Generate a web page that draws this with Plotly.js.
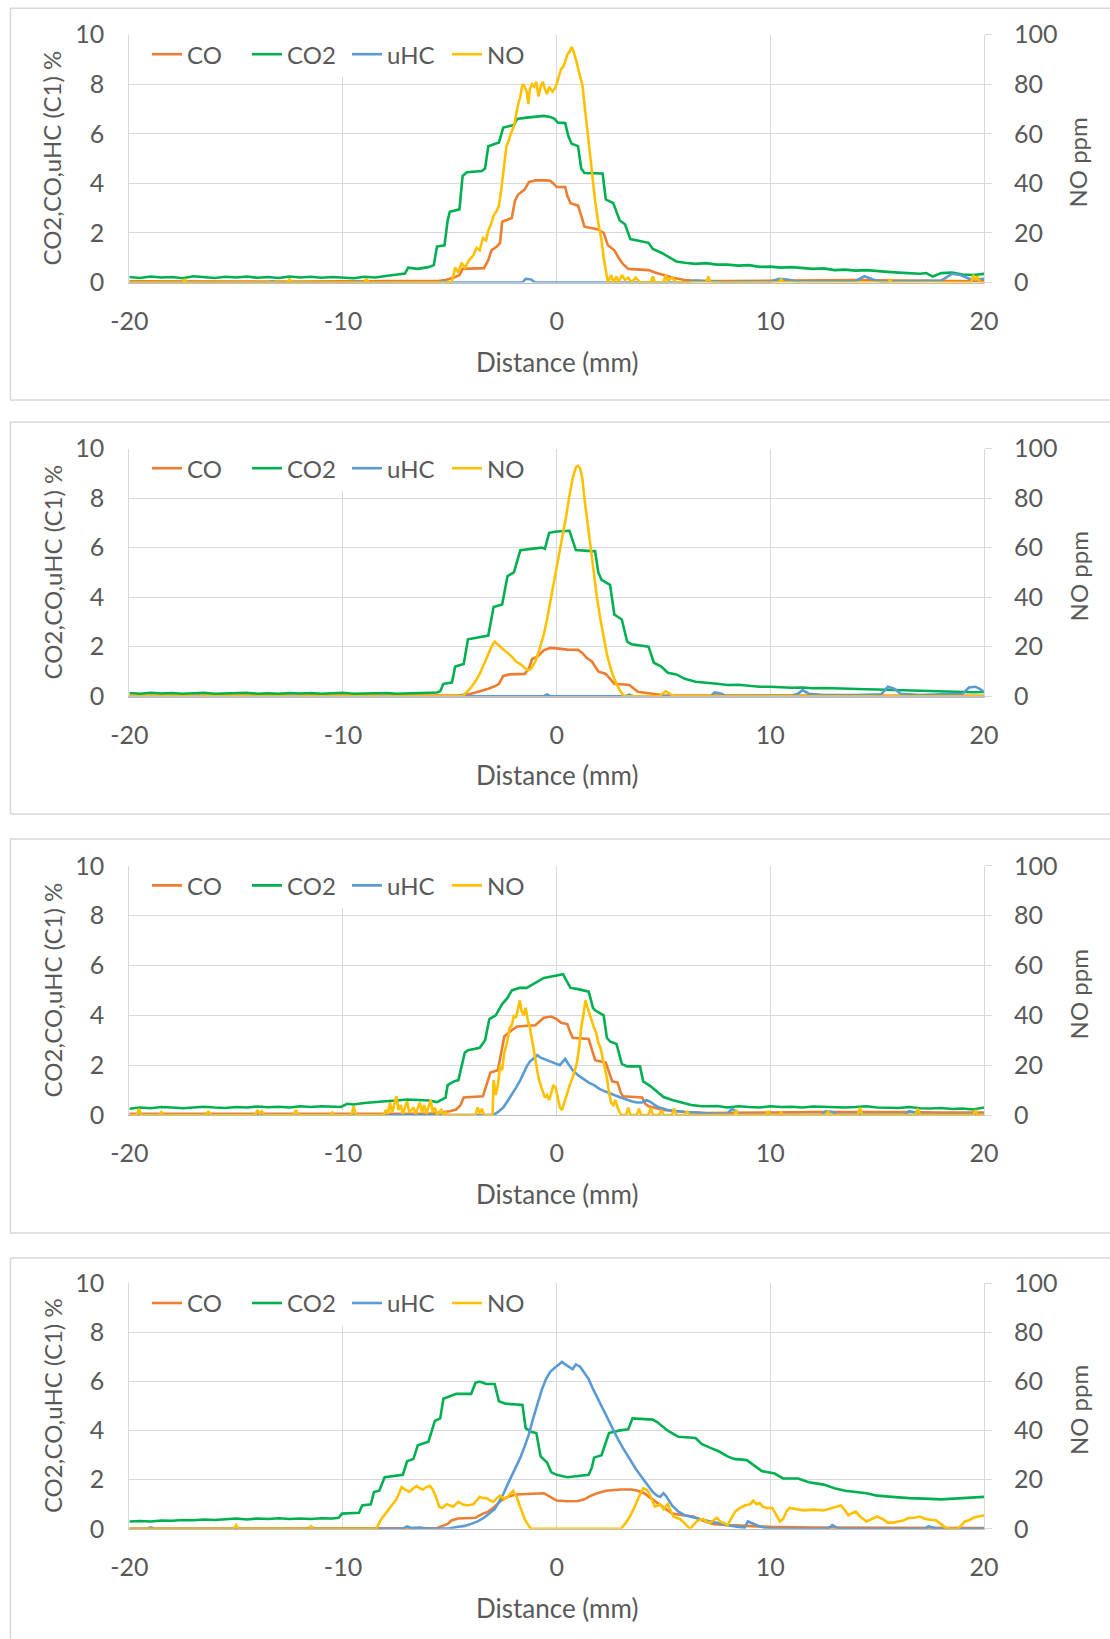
<!DOCTYPE html>
<html>
<head>
<meta charset="utf-8">
<script src="https://cdn.plot.ly/plotly-3.0.1.min.js"></script>
<style>
  html, body { margin: 0; padding: 0; background: #ffffff; }
  #chart { width: 1110px; height: 1639px; }
</style>
</head>
<body>
<div id="chart"></div>
<script>
// ---------------- DATA ----------------
// Each series: [distance mm, value]. CO, CO2, uHC in % (left axis); NO in ppm (right axis).
const SERIES_NAMES = ["CO", "CO2", "uHC", "NO"];
const X_TICKS = [-20, -10, 0, 10, 20];
const Y_LEFT_TICKS = [0, 2, 4, 6, 8, 10];
const Y_RIGHT_TICKS = [0, 20, 40, 60, 80, 100];

// ---- Panel 1 ----
const P1_CO = [[-20,0.05],[-18,0.04],[-16,0.06],[-14,0.05],[-12,0.04],[-10,0.05],[-8,0.05],[-6,0.06],[-5.5,0.07],[-5.2,0.1],[-4.8,0.2],[-4.55,0.3],[-4.4,0.55],[-3.4,0.58],[-3.2,0.9],[-3.05,1.3],[-2.8,1.45],[-2.65,1.6],[-2.55,2.45],[-2.1,2.6],[-1.95,3.3],[-1.8,3.55],[-1.5,3.75],[-1.3,4.05],[-1.0,4.12],[-0.5,4.12],[-0.3,4.1],[-0.1,3.95],[0.0,3.85],[0.4,3.85],[0.5,3.5],[0.65,3.2],[1.0,3.1],[1.15,2.7],[1.3,2.25],[1.9,2.15],[2.2,2.0],[2.4,1.5],[2.7,1.3],[2.9,1.0],[3.1,0.75],[3.35,0.55],[4.3,0.5],[4.6,0.4],[5.0,0.3],[5.5,0.18],[6.0,0.1],[6.5,0.07],[8,0.06],[10,0.08],[12,0.1],[14,0.1],[16,0.08],[18,0.06],[20,0.05]];
const P1_CO2 = [[-20,0.22],[-19.5,0.18],[-19,0.24],[-18.5,0.2],[-18,0.22],[-17.5,0.17],[-17,0.25],[-16.5,0.2],[-16,0.18],[-15.5,0.23],[-15,0.2],[-14.5,0.24],[-14,0.19],[-13.5,0.22],[-13,0.18],[-12.5,0.24],[-12,0.2],[-11.5,0.23],[-11,0.19],[-10.5,0.22],[-10,0.2],[-9.5,0.17],[-9,0.23],[-8.5,0.2],[-8,0.26],[-7.5,0.3],[-7.1,0.36],[-6.95,0.6],[-6.5,0.55],[-6,0.62],[-5.75,0.7],[-5.6,1.45],[-5.25,1.5],[-5.1,2.5],[-5.0,2.85],[-4.55,2.95],[-4.4,4.3],[-4.2,4.45],[-3.5,4.5],[-3.35,4.6],[-3.2,5.5],[-2.7,5.65],[-2.5,6.25],[-2.0,6.35],[-1.85,6.6],[-1.4,6.65],[-1.0,6.7],[-0.6,6.72],[-0.3,6.68],[-0.1,6.6],[0.05,6.45],[0.4,6.43],[0.55,5.9],[0.7,5.6],[1.0,5.5],[1.15,4.6],[1.3,4.42],[2.15,4.4],[2.3,3.35],[2.65,3.2],[2.95,2.5],[3.2,2.35],[3.45,1.75],[4.3,1.6],[4.5,1.35],[4.9,1.2],[5.3,1.0],[5.6,0.85],[6.0,0.8],[6.5,0.75],[7.0,0.78],[7.5,0.72],[8.0,0.72],[8.5,0.68],[9.0,0.7],[9.5,0.63],[10.0,0.64],[10.5,0.6],[11,0.62],[11.5,0.57],[12,0.55],[12.5,0.57],[13,0.5],[13.5,0.52],[14,0.48],[14.5,0.5],[15,0.45],[15.5,0.43],[16,0.4],[16.5,0.38],[17,0.35],[17.3,0.38],[17.6,0.24],[18,0.38],[18.5,0.4],[19,0.32],[19.5,0.3],[20,0.35]];
const P1_UHC = [[-20,0],[-17.6,0],[-17.4,0.06],[-17.2,0],[-13.5,0],[-13.3,0.05],[-13.1,0],[-9.5,0],[-9.3,0.05],[-9.1,0],[-5.5,0],[-5.3,0.06],[-5.1,0],[-1.6,0],[-1.45,0.15],[-1.2,0.12],[-1.0,0],[6.0,0],[6.5,0.08],[7,0.05],[8,0.02],[9,0.04],[10,0.03],[10.4,0.15],[10.8,0.12],[11.2,0.05],[12,0.05],[13,0.03],[14,0.06],[14.4,0.25],[14.8,0.12],[15.2,0.04],[16,0.05],[17,0.04],[18,0.08],[18.5,0.35],[18.9,0.3],[19.3,0.15],[19.7,0.12],[20,0.15]];
const P1_NO = [[-20,0],[-17.5,0],[-17.4,1.5],[-17.3,0],[-12.6,0],[-12.5,1.5],[-12.4,0],[-9.0,0],[-8.9,1.5],[-8.8,0],[-4.9,0],[-4.75,6],[-4.6,4],[-4.45,8],[-4.3,6],[-4.1,9],[-3.9,11],[-3.75,14],[-3.6,13],[-3.45,18],[-3.3,17],[-3.2,21],[-3.05,24],[-2.95,27],[-2.8,29],[-2.7,31],[-2.6,37],[-2.45,48],[-2.35,55],[-2.25,57],[-2.15,60],[-2.0,63],[-1.9,68],[-1.8,72],[-1.7,75],[-1.6,80],[-1.5,79],[-1.4,77],[-1.33,72],[-1.25,78],[-1.15,80],[-1.05,79],[-0.95,81],[-0.85,75],[-0.75,79],[-0.65,81],[-0.55,78],[-0.45,76],[-0.35,79],[-0.2,77],[-0.1,78],[0.0,80],[0.1,83],[0.2,86],[0.3,87],[0.4,89],[0.5,92],[0.6,93],[0.7,95],[0.8,93],[0.9,90],[1.0,86],[1.1,83],[1.2,80],[1.35,68],[1.5,56],[1.65,44],[1.8,33],[1.95,24],[2.1,17],[2.2,10],[2.3,5],[2.4,0],[2.55,3],[2.65,0],[2.8,2.5],[2.9,0],[3.05,3],[3.2,1],[3.35,2],[3.5,0],[3.7,2],[3.9,0],[4.4,0],[4.5,2.5],[4.6,0],[5.0,0],[5.1,3],[5.2,0.5],[5.4,2],[5.6,0],[7.0,0],[7.1,2.5],[7.2,0],[10.4,0],[10.5,1.5],[10.6,0],[15.5,0],[15.6,1],[15.7,0],[19.4,0],[19.5,3],[19.6,1],[19.7,2.5],[19.8,0],[20,0]];

// ---- Panel 2 ----
const P2_CO = [[-20,0.02],[-15,0.02],[-10,0.02],[-6,0.03],[-4.5,0.03],[-4.0,0.1],[-3.5,0.22],[-3.2,0.3],[-2.9,0.4],[-2.7,0.5],[-2.5,0.82],[-2.2,0.88],[-1.5,0.9],[-1.3,1.1],[-1.15,1.5],[-0.9,1.6],[-0.6,1.85],[-0.3,1.95],[0.0,1.93],[0.5,1.88],[1.0,1.87],[1.2,1.75],[1.4,1.55],[1.65,1.4],[1.8,1.2],[1.95,1.0],[2.3,0.9],[2.5,0.7],[2.7,0.5],[3.4,0.45],[3.6,0.3],[3.8,0.18],[4.3,0.12],[5.0,0.04],[6,0.03],[10,0.02],[15,0.03],[20,0.02]];
const P2_CO2 = [[-20,0.13],[-19.5,0.1],[-19,0.14],[-18.5,0.11],[-18,0.13],[-17.5,0.1],[-17,0.12],[-16.5,0.14],[-16,0.1],[-15.5,0.12],[-15,0.11],[-14.5,0.14],[-14,0.1],[-13.5,0.12],[-13,0.1],[-12.5,0.13],[-12,0.11],[-11.5,0.13],[-11,0.1],[-10.5,0.12],[-10,0.14],[-9.5,0.1],[-9,0.12],[-8.5,0.11],[-8,0.13],[-7.5,0.1],[-7,0.12],[-6.5,0.11],[-6,0.13],[-5.6,0.15],[-5.45,0.2],[-5.3,0.5],[-4.9,0.55],[-4.75,1.2],[-4.35,1.3],[-4.15,2.3],[-3.2,2.45],[-2.95,3.6],[-2.55,3.7],[-2.3,4.85],[-2.0,5.0],[-1.7,5.9],[-0.7,6.0],[-0.55,5.95],[-0.35,6.6],[0.0,6.65],[0.6,6.68],[0.75,6.3],[0.9,5.9],[1.8,5.85],[1.95,5.0],[2.1,4.7],[2.5,4.5],[2.7,3.3],[3.05,3.1],[3.3,2.2],[3.5,2.1],[4.3,2.0],[4.55,1.35],[4.9,1.2],[5.2,0.95],[5.6,0.88],[6.0,0.7],[6.5,0.58],[7.0,0.55],[7.5,0.5],[8,0.45],[8.5,0.46],[9,0.42],[9.5,0.38],[10,0.38],[10.5,0.36],[11,0.34],[11.5,0.35],[12,0.32],[12.5,0.33],[13,0.31],[13.5,0.3],[14,0.3],[14.5,0.28],[15,0.27],[15.5,0.26],[16,0.24],[16.5,0.23],[17,0.21],[17.5,0.19],[18,0.18],[18.5,0.17],[19,0.18],[19.5,0.16],[20,0.17]];
const P2_UHC = [[-20,0],[-17,0],[-16.9,0.05],[-16.7,0],[-12.5,0],[-12.3,0.05],[-12.1,0],[-8.3,0],[-8.1,0.05],[-7.9,0],[-4.6,0],[-4.4,0.05],[-4.2,0],[-0.6,0],[-0.45,0.07],[-0.3,0],[3.2,0],[3.4,0.06],[3.6,0],[7.2,0],[7.4,0.15],[7.7,0.1],[7.9,0.02],[9,0.03],[11,0.02],[11.3,0.1],[11.5,0.25],[11.8,0.1],[12.5,0.05],[14,0.05],[15.2,0.08],[15.5,0.38],[15.8,0.3],[16.1,0.1],[17,0.05],[18,0.08],[19,0.1],[19.3,0.35],[19.6,0.38],[19.8,0.3],[20,0.18]];
const P2_NO = [[-20,0],[-4.4,0],[-4.05,3],[-3.8,6],[-3.6,9],[-3.4,13],[-3.2,17],[-3.05,20],[-2.9,22],[-2.75,21],[-2.5,19],[-2.3,17.5],[-2.1,16],[-1.9,14],[-1.7,13],[-1.5,11.5],[-1.35,10.5],[-1.2,11],[-1.0,14],[-0.8,19],[-0.6,25],[-0.45,31],[-0.3,38],[-0.15,45],[0.0,51],[0.15,58],[0.3,65],[0.45,73],[0.6,81],[0.75,88],[0.9,92.5],[1.0,93],[1.1,92],[1.2,88],[1.3,80],[1.45,70],[1.6,60],[1.75,48],[1.9,39],[2.05,31],[2.2,24],[2.35,17],[2.5,12],[2.65,8],[2.8,5],[2.95,2.5],[3.15,0],[4.8,0],[5.1,2],[5.4,0.5],[5.6,0],[20,0]];

// ---- Panel 3 ----
const P3_CO = [[-20,0.05],[-16,0.05],[-12,0.06],[-8,0.05],[-6,0.05],[-5.5,0.1],[-5.0,0.15],[-4.7,0.22],[-4.5,0.4],[-4.35,0.7],[-3.45,0.75],[-3.25,1.3],[-3.1,1.7],[-2.75,1.8],[-2.6,2.5],[-2.45,3.15],[-2.1,3.4],[-1.85,3.55],[-1.0,3.6],[-0.75,3.8],[-0.6,3.9],[-0.25,3.95],[0.0,3.85],[0.2,3.7],[0.5,3.65],[0.6,3.4],[0.75,3.1],[1.5,3.05],[1.65,2.6],[1.8,2.2],[2.3,2.1],[2.45,1.7],[2.6,1.35],[2.85,1.3],[3.0,0.9],[3.1,0.75],[4.0,0.7],[4.15,0.45],[4.3,0.35],[5.0,0.2],[6.0,0.12],[7.0,0.08],[8,0.08],[10,0.1],[12,0.12],[14,0.13],[16,0.12],[18,0.1],[20,0.1]];
const P3_CO2 = [[-20,0.25],[-19.5,0.3],[-19,0.27],[-18.5,0.32],[-18,0.3],[-17.5,0.27],[-17,0.3],[-16.5,0.33],[-16,0.3],[-15.5,0.28],[-15,0.32],[-14.5,0.3],[-14,0.34],[-13.5,0.31],[-13,0.33],[-12.5,0.3],[-12,0.35],[-11.5,0.32],[-11,0.35],[-10.5,0.33],[-10.1,0.32],[-9.8,0.45],[-9.5,0.42],[-9,0.48],[-8.5,0.5],[-8,0.55],[-7.5,0.58],[-7,0.62],[-6.5,0.6],[-6,0.58],[-5.6,0.52],[-5.4,0.6],[-5.2,0.7],[-5.1,1.2],[-4.8,1.35],[-4.6,1.4],[-4.3,2.5],[-4.15,2.6],[-3.6,2.7],[-3.35,3.0],[-3.15,3.85],[-2.85,4.0],[-2.55,4.45],[-2.3,4.7],[-2.1,5.0],[-1.75,5.1],[-1.4,5.1],[-1.2,5.2],[-0.9,5.35],[-0.6,5.5],[-0.3,5.55],[0.0,5.6],[0.3,5.65],[0.45,5.4],[0.65,5.1],[1.0,5.05],[1.5,4.95],[1.7,4.3],[1.8,4.2],[2.2,4.0],[2.35,3.1],[2.5,2.95],[2.8,2.85],[3.05,2.05],[3.3,1.95],[3.9,1.95],[4.05,1.35],[4.4,1.15],[4.6,1.0],[5.0,0.72],[5.4,0.6],[5.8,0.5],[6.3,0.4],[6.8,0.35],[7.5,0.36],[8,0.3],[8.5,0.35],[9,0.32],[9.5,0.3],[10,0.35],[10.5,0.32],[11,0.33],[11.5,0.3],[12,0.34],[12.5,0.32],[13,0.33],[13.5,0.3],[14,0.32],[14.5,0.35],[15,0.3],[15.5,0.3],[16,0.28],[16.5,0.32],[17,0.27],[17.5,0.26],[18,0.28],[18.5,0.24],[19,0.26],[19.5,0.22],[20,0.3]];
const P3_UHC = [[-20,0],[-3.0,0],[-2.8,0.08],[-2.5,0.3],[-2.3,0.55],[-2.1,0.8],[-1.9,1.1],[-1.7,1.4],[-1.55,1.7],[-1.4,1.95],[-1.25,2.15],[-1.1,2.25],[-0.9,2.4],[-0.75,2.3],[-0.6,2.25],[-0.45,2.2],[-0.3,2.15],[-0.15,2.1],[0.0,2.05],[0.15,2.0],[0.3,2.15],[0.4,2.25],[0.55,2.05],[0.75,1.8],[1.0,1.6],[1.25,1.45],[1.5,1.3],[1.75,1.2],[2.0,1.05],[2.25,0.95],[2.5,0.85],[2.75,0.78],[3.0,0.7],[3.25,0.62],[3.5,0.55],[3.75,0.5],[4.0,0.5],[4.2,0.6],[4.4,0.52],[4.6,0.4],[4.8,0.3],[5.2,0.2],[5.6,0.15],[6.0,0.12],[6.5,0.1],[7,0.06],[7.5,0.04],[8.0,0.05],[8.2,0.25],[8.4,0.15],[8.6,0.02],[10,0],[12.4,0.02],[12.6,0.15],[12.9,0.12],[13.1,0.02],[16.3,0.02],[16.5,0.15],[16.8,0.1],[17.0,0.03],[20,0.02]];
const P3_NO = [[-20,0],[-19.65,0],[-19.55,2.5],[-19.45,0],[-18.6,0],[-18.5,1.2],[-18.4,0],[-16.4,0],[-16.3,1.5],[-16.2,0],[-14.1,0],[-14.0,2],[-13.9,0.5],[-13.8,1.5],[-13.7,0],[-12.3,0],[-12.2,2],[-12.1,0],[-10.6,0],[-10.5,1],[-10.4,0],[-9.6,0],[-9.5,3.5],[-9.4,0],[-8.1,0],[-8.0,2],[-7.9,0.5],[-7.8,5],[-7.7,1],[-7.5,7.5],[-7.4,2],[-7.3,4],[-7.2,0.5],[-7.0,5.5],[-6.9,1],[-6.7,3],[-6.6,0.5],[-6.4,5],[-6.3,1],[-6.2,4],[-6.1,0.5],[-5.9,6],[-5.8,1],[-5.7,3],[-5.6,0],[-5.4,2],[-5.3,0],[-5.2,1],[-5.1,0],[-3.8,0],[-3.7,3],[-3.6,0.5],[-3.5,2.5],[-3.4,0],[-3.0,0],[-2.95,14],[-2.85,8],[-2.75,12],[-2.65,20],[-2.55,18],[-2.45,25],[-2.3,30],[-2.2,35],[-2.1,36],[-2.0,40],[-1.9,39],[-1.8,43],[-1.72,46],[-1.65,42],[-1.55,40],[-1.45,43],[-1.35,38],[-1.25,35],[-1.15,30],[-1.05,25],[-0.95,20],[-0.85,15],[-0.75,12],[-0.65,9],[-0.55,7],[-0.45,8],[-0.35,6],[-0.25,9],[-0.15,12],[-0.05,11],[0.05,7],[0.15,3],[0.25,2],[0.35,5],[0.45,8],[0.55,10],[0.65,13],[0.75,15],[0.85,18],[0.95,21],[1.05,27],[1.15,35],[1.25,40],[1.35,46],[1.45,43],[1.55,40],[1.65,37],[1.75,35],[1.85,33],[1.95,29],[2.05,27],[2.15,23],[2.25,19],[2.35,15],[2.45,9],[2.55,5],[2.65,4],[2.75,6],[2.85,3],[2.95,1],[3.05,0],[3.25,0],[3.35,3],[3.45,0],[3.75,0],[3.85,2.5],[3.95,0],[4.3,0],[4.4,3],[4.5,0],[4.8,0],[4.9,2],[5.0,0],[5.4,0],[5.5,2.5],[5.6,0],[6.0,0],[6.1,1.5],[6.2,0],[8.3,0],[8.4,2],[8.5,0],[9.8,0],[9.9,1.5],[10.0,0],[10.4,0],[10.5,1],[10.6,0],[12.6,0],[12.7,1.5],[12.8,0],[14.1,0],[14.2,3],[14.3,0],[16.8,0],[16.9,2.5],[17.0,0],[19.5,0],[19.6,2],[19.7,0],[20,0]];

// ---- Panel 4 ----
const P4_CO = [[-20,0],[-14,0],[-10,0],[-6,0],[-5.6,0.03],[-5.4,0.1],[-5.1,0.2],[-4.9,0.35],[-4.6,0.42],[-3.8,0.45],[-3.5,0.6],[-3.2,0.7],[-2.9,0.9],[-2.6,1.15],[-2.3,1.3],[-1.9,1.4],[-1.0,1.45],[-0.6,1.45],[-0.3,1.3],[0.0,1.15],[0.5,1.12],[1.0,1.13],[1.3,1.2],[1.6,1.35],[1.9,1.45],[2.3,1.55],[3.0,1.6],[3.5,1.6],[3.8,1.55],[4.1,1.45],[4.4,1.25],[4.7,1.05],[5.0,0.85],[5.4,0.62],[5.9,0.55],[6.4,0.5],[6.8,0.35],[7.3,0.2],[8.0,0.15],[9,0.1],[10,0.08],[12,0.05],[14,0.04],[16,0.04],[18,0.03],[20,0.03]];
const P4_CO2 = [[-20,0.3],[-19.5,0.32],[-19,0.3],[-18.5,0.34],[-18,0.33],[-17.5,0.36],[-17,0.35],[-16.5,0.38],[-16,0.36],[-15.5,0.4],[-15,0.42],[-14.5,0.38],[-14,0.42],[-13.5,0.4],[-13,0.43],[-12.5,0.4],[-12,0.42],[-11.5,0.4],[-11,0.43],[-10.5,0.42],[-10.2,0.45],[-10.05,0.62],[-9.5,0.64],[-9.25,0.65],[-9.1,0.95],[-8.7,1.0],[-8.55,1.5],[-8.3,1.55],[-8.05,2.1],[-7.2,2.2],[-7.0,2.75],[-6.7,2.85],[-6.5,3.4],[-6.0,3.55],[-5.7,4.4],[-5.45,4.5],[-5.3,5.3],[-4.7,5.5],[-4.0,5.5],[-3.8,5.95],[-3.6,6.0],[-3.3,5.9],[-2.9,5.9],[-2.7,5.2],[-2.4,5.1],[-1.6,5.05],[-1.45,4.1],[-1.2,3.95],[-0.95,3.9],[-0.75,2.95],[-0.45,2.7],[-0.25,2.3],[0.0,2.2],[0.5,2.1],[1.0,2.15],[1.5,2.2],[1.65,2.5],[1.75,2.9],[2.1,3.0],[2.3,3.5],[2.45,3.9],[2.9,4.0],[3.35,4.05],[3.55,4.5],[4.5,4.45],[4.7,4.35],[4.9,4.2],[5.2,4.0],[5.5,3.85],[5.7,3.75],[6.5,3.7],[6.8,3.45],[7.2,3.3],[7.6,3.15],[8.0,2.95],[8.3,2.85],[8.9,2.8],[9.2,2.6],[9.6,2.35],[10.2,2.25],[10.6,2.05],[11.3,2.05],[11.8,1.9],[12.5,1.8],[13.0,1.65],[13.5,1.55],[14.0,1.5],[14.5,1.45],[15.0,1.35],[15.5,1.3],[16,1.28],[16.5,1.25],[17,1.25],[17.5,1.22],[18,1.2],[18.5,1.23],[19,1.25],[19.5,1.27],[20,1.3]];
const P4_UHC = [[-20,0],[-19.2,0],[-19.0,0.06],[-18.8,0],[-15.2,0],[-15.0,0.05],[-14.8,0],[-11.7,0],[-11.5,0.08],[-11.3,0],[-7.2,0],[-7.0,0.1],[-6.8,0.03],[-6.4,0.05],[-6.0,0],[-5.0,0.02],[-4.6,0.08],[-4.3,0.12],[-4.0,0.2],[-3.7,0.3],[-3.4,0.45],[-3.1,0.65],[-2.9,0.8],[-2.7,1.1],[-2.5,1.4],[-2.3,1.8],[-2.1,2.15],[-1.9,2.5],[-1.7,2.9],[-1.5,3.35],[-1.3,3.85],[-1.1,4.5],[-0.9,5.1],[-0.7,5.65],[-0.5,6.1],[-0.3,6.4],[-0.1,6.55],[0.1,6.7],[0.25,6.8],[0.4,6.7],[0.6,6.6],[0.75,6.5],[0.9,6.7],[1.1,6.6],[1.3,6.35],[1.5,6.1],[1.7,5.7],[1.9,5.35],[2.1,4.95],[2.3,4.6],[2.5,4.25],[2.7,3.95],[2.9,3.6],[3.1,3.3],[3.3,3.0],[3.5,2.7],[3.7,2.45],[3.9,2.2],[4.1,1.95],[4.3,1.7],[4.5,1.5],[4.7,1.35],[4.85,1.3],[5.0,1.45],[5.15,1.3],[5.4,0.95],[5.7,0.7],[6.0,0.55],[6.4,0.45],[6.8,0.38],[7.2,0.3],[7.6,0.22],[8.0,0.15],[8.5,0.08],[8.8,0.05],[8.95,0.3],[9.2,0.2],[9.5,0.1],[9.8,0.03],[10.2,0],[12.7,0],[12.9,0.15],[13.1,0.05],[13.3,0],[17.2,0],[17.4,0.1],[17.7,0.03],[17.9,0],[20,0]];
const P4_NO = [[-20,0],[-15.1,0],[-15.0,1.5],[-14.9,0],[-11.6,0],[-11.5,1],[-11.4,0],[-8.45,0],[-8.2,4],[-7.95,7],[-7.7,10],[-7.5,12],[-7.35,15],[-7.25,17],[-7.1,16],[-6.9,15],[-6.7,16.5],[-6.55,17.5],[-6.4,16.5],[-6.25,16],[-6.1,17],[-5.93,17.5],[-5.8,16],[-5.65,13],[-5.5,9],[-5.35,8.5],[-5.15,10],[-5.0,9.5],[-4.84,9],[-4.6,11],[-4.4,10],[-4.2,9.5],[-3.9,10],[-3.75,11.5],[-3.6,13],[-3.45,12.5],[-3.28,12.5],[-3.1,11.5],[-2.96,11],[-2.8,12.5],[-2.65,13.5],[-2.5,12.5],[-2.34,12.5],[-2.2,14],[-2.03,15.5],[-1.95,14],[-1.87,13],[-1.75,10],[-1.64,7],[-1.5,4],[-1.4,2.5],[-1.25,0.5],[-1.17,0],[3.0,0],[3.2,2],[3.43,5],[3.6,8],[3.74,11],[3.9,14],[4.05,16.5],[4.2,16],[4.3,15],[4.45,12],[4.6,9],[4.75,9.5],[4.84,10],[5.0,8],[5.1,9],[5.2,10],[5.3,8],[5.46,5],[5.6,4.5],[5.77,4],[5.9,3],[6.1,1],[6.24,0],[6.4,1.5],[6.55,3],[6.7,3.7],[6.86,4],[7.0,3],[7.2,2.5],[7.35,3.5],[7.5,4.5],[7.65,3],[7.8,2.5],[8.0,1.5],[8.15,4],[8.35,7],[8.58,8.5],[8.8,9.5],[9.05,10],[9.2,11.5],[9.35,10],[9.5,10.5],[9.65,9],[9.83,8.5],[10.1,8.5],[10.3,5],[10.45,3],[10.6,4],[10.75,7],[10.9,8.5],[11.2,8],[11.55,7.5],[12.0,7.8],[12.5,7.5],[13.0,8.8],[13.3,9.5],[13.5,7.5],[13.65,5.5],[13.85,6.5],[14.0,7],[14.2,5],[14.5,3],[14.75,4],[15.0,5],[15.25,4],[15.5,2.5],[15.75,2.5],[16.0,3],[16.25,3.5],[16.5,4.5],[16.75,4.5],[17.0,5],[17.25,4],[17.5,3.7],[17.75,3.5],[18.0,1.8],[18.2,0.5],[18.4,0],[18.75,0],[18.9,1],[19.1,3],[19.3,3.5],[19.5,4.5],[19.75,5],[20,5.5]];

const PANEL_DATA = [
  [P1_CO, P1_CO2, P1_UHC, P1_NO],
  [P2_CO, P2_CO2, P2_UHC, P2_NO],
  [P3_CO, P3_CO2, P3_UHC, P3_NO],
  [P4_CO, P4_CO2, P4_UHC, P4_NO]
];

// ---------------- STYLE / LAYOUT ----------------
const COLORS = ["#ED7D31", "#00B050", "#5B9BD5", "#FFC000"];
const FONT = 'Lato, "Open Sans", "Noto Sans", sans-serif';
const TXT = "#595959";
const GRID = "#d9d9d9";
const W = 1110, H = 1639;
const fx = p => p / W;
const fy = p => 1 - p / H;
const PLOT_L = 129.3, PLOT_R = 984;
const PANELS = [
  {top: 34.6,   bot: 282.5,  boxTop: 8.3,  boxBot: 400},
  {top: 448.6,  bot: 696.2,  boxTop: 422,  boxBot: 814},
  {top: 865.8,  bot: 1115,   boxTop: 839,  boxBot: 1233},
  {top: 1283.4, bot: 1528.8, boxTop: 1258, boxBot: 1660}
];

const traces = [];
const layout = {
  width: W, height: H,
  margin: {l: 0, r: 0, t: 0, b: 0},
  paper_bgcolor: "#ffffff",
  plot_bgcolor: "rgba(0,0,0,0)",
  font: {family: FONT, color: TXT, size: 24},
  showlegend: true,
  shapes: [],
  annotations: []
};

PANELS.forEach((P, i) => {
  const n = i + 1;
  const xName = n === 1 ? "x" : "x" + n;
  const yL = 2 * i + 1, yR = 2 * i + 2;
  const yLName = yL === 1 ? "y" : "y" + yL;
  const yRName = "y" + yR;
  const legName = n === 1 ? "legend" : "legend" + n;

  PANEL_DATA[i].forEach((pts, k) => {
    traces.push({
      type: "scatter", mode: "lines",
      name: SERIES_NAMES[k],
      x: pts.map(p => p[0]),
      y: pts.map(p => p[1]),
      xaxis: xName,
      yaxis: k === 3 ? yRName : yLName,
      legend: legName,
      line: {color: COLORS[k], width: 2.6},
      hoverinfo: "skip"
    });
  });

  layout[n === 1 ? "xaxis" : "xaxis" + n] = {
    domain: [fx(PLOT_L), fx(PLOT_R)],
    anchor: yLName,
    range: [-20, 20],
    tickvals: X_TICKS,
    ticktext: X_TICKS.map(String),
    showgrid: true, gridcolor: GRID, gridwidth: 1,
    zeroline: false,
    showline: true, linecolor: "#bfbfbf", linewidth: 1.3,
    ticks: "",
    ticklabelstandoff: 16,
    tickfont: {family: FONT, size: 25, color: TXT},
    fixedrange: true
  };
  layout[yL === 1 ? "yaxis" : "yaxis" + yL] = {
    domain: [fy(P.bot), fy(P.top)],
    anchor: xName,
    range: [0, 10],
    tickvals: Y_LEFT_TICKS,
    ticktext: Y_LEFT_TICKS.map(String),
    showgrid: true, gridcolor: GRID, gridwidth: 1,
    zeroline: false,
    showline: true, linecolor: GRID, linewidth: 1,
    ticks: "",
    ticklabelstandoff: 19,
    tickfont: {family: FONT, size: 25, color: TXT},
    fixedrange: true
  };
  layout["yaxis" + yR] = {
    domain: [fy(P.bot), fy(P.top)],
    anchor: xName,
    overlaying: yLName,
    side: "right",
    range: [0, 100],
    tickvals: Y_RIGHT_TICKS,
    ticktext: Y_RIGHT_TICKS.map(String),
    showgrid: false,
    zeroline: false,
    showline: true, linecolor: GRID, linewidth: 1,
    ticks: "outside", ticklen: 7, tickcolor: GRID, tickwidth: 1,
    ticklabelstandoff: 17,
    tickfont: {family: FONT, size: 25, color: TXT},
    fixedrange: true
  };
  layout[legName] = {
    orientation: "h",
    x: fx(147), xanchor: "left",
    y: fy(P.top + 20), yanchor: "middle",
    bgcolor: "#ffffff",
    borderwidth: 0,
    font: {family: FONT, size: 24, color: TXT},
    entrywidth: 55, entrywidthmode: "pixels",
    traceorder: "normal"
  };

  // panel frame
  layout.shapes.push({
    type: "rect", xref: "paper", yref: "paper", layer: "below",
    x0: fx(10.5), x1: fx(1125), y0: fy(P.boxBot), y1: fy(P.boxTop),
    line: {color: GRID, width: 1.6}, fillcolor: "rgba(0,0,0,0)"
  });

  // axis titles
  const midY = (P.top + P.bot) / 2;
  layout.annotations.push(
    {text: "CO2,CO,uHC (C1) %", xref: "paper", yref: "paper",
     x: fx(52), y: fy(midY), xanchor: "center", yanchor: "middle",
     textangle: -90, showarrow: false, font: {family: FONT, size: 24, color: TXT}},
    {text: "NO ppm", xref: "paper", yref: "paper",
     x: fx(1078), y: fy(midY + 4), xanchor: "center", yanchor: "middle",
     textangle: -90, showarrow: false, font: {family: FONT, size: 24, color: TXT}},
    {text: "Distance (mm)", xref: "paper", yref: "paper",
     x: fx((PLOT_L + PLOT_R) / 2), y: fy(P.bot + 79), xanchor: "center", yanchor: "middle",
     showarrow: false, font: {family: FONT, size: 26, color: TXT}}
  );
});

Plotly.newPlot("chart", traces, layout, {staticPlot: true, displayModeBar: false});
</script>
</body>
</html>
